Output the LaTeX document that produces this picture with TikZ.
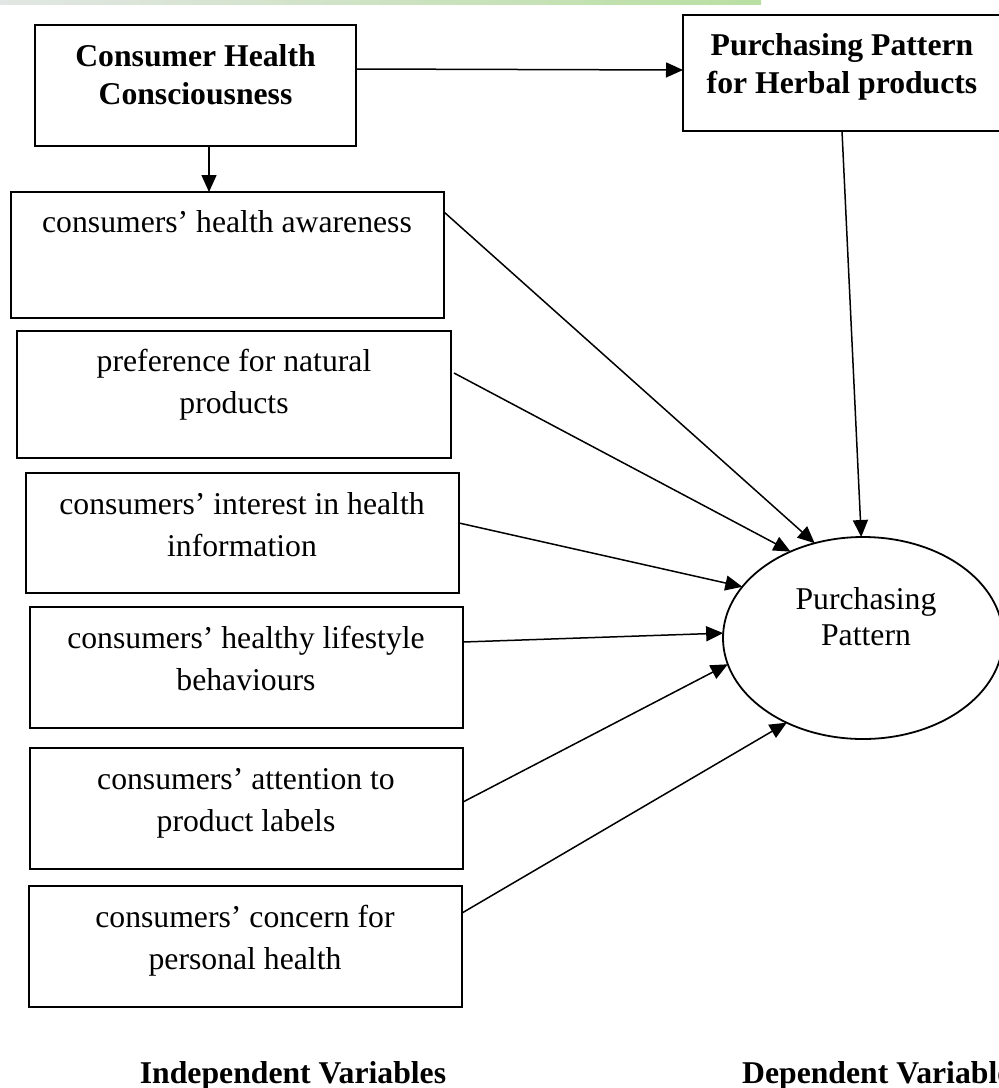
\documentclass[tikz,border=0pt]{standalone}
\usepackage{fontspec}
\setmainfont{Liberation Serif}
\usetikzlibrary{arrows.meta,shapes.geometric,calc}
\definecolor{gl}{HTML}{E2E6E4}
\definecolor{gm}{HTML}{A9D9CC}
\definecolor{gr}{HTML}{B9DFA2}
\begin{document}
\begin{tikzpicture}[x=1pt,y=-1pt,
 box/.style={draw,line width=1.8pt,rectangle,inner sep=0pt,outer sep=0pt},
 oval/.style={draw,line width=1.8pt,ellipse,inner sep=0pt,outer sep=0pt},
 txt/.style={font=\fontsize{31.7}{41.5}\selectfont,align=center,anchor=base,inner sep=0pt},
 btxt/.style={font=\fontsize{31.7}{37.5}\selectfont\bfseries,align=center,anchor=base,inner sep=0pt},
 arr/.style={line width=1.5pt,-{Triangle[length=17pt,width=15pt]}}]
\useasboundingbox (0,0) rectangle (999,1088);
\shade[left color=gl, middle color=gm, right color=gr] (0,0) rectangle (761,4);

% boxes
\node[box,line width=2.1pt,minimum width=321pt,minimum height=121pt] (chc) at (195.5,85.5) {};
\node[box,line width=2.1pt,minimum width=317pt,minimum height=116pt] (pph) at (841.5,73) {};
\node[box,minimum width=433pt,minimum height=126pt] (aw) at (227.5,255) {};
\node[box,minimum width=434pt,minimum height=127pt] (pref) at (234,394.5) {};
\node[box,minimum width=433pt,minimum height=120pt] (int) at (242.5,533) {};
\node[box,minimum width=433pt,minimum height=121pt] (life) at (246.5,667.5) {};
\node[box,minimum width=433pt,minimum height=121pt] (att) at (246.5,808.5) {};
\node[box,minimum width=433pt,minimum height=121pt] (con) at (245.5,946.5) {};
\node[oval,minimum width=280pt,minimum height=202pt] (pp) at (863,638) {};

% texts
\node[btxt] (tchc) at (195.5,104) {Consumer Health\\Consciousness};
\node[btxt] (tpph) at (842,93) {Purchasing Pattern\\for Herbal products};
\node[txt] (taw) at (227,232) {consumers’ health awareness};
\node[txt] (tpref) at (234,413) {preference for natural\\products};
\node[txt] (tint) at (242,556) {consumers’ interest in health\\information};
\node[txt] (tlife) at (246,690) {consumers’ healthy lifestyle\\behaviours};
\node[txt] (tatt) at (246,831) {consumers’ attention to\\product labels};
\node[txt] (tcon) at (245,969) {consumers’ concern for\\personal health};
\node[txt,font=\fontsize{31.7}{36}\selectfont] (tpp) at (866,645) {Purchasing\\Pattern};
\node[btxt] (tind) at (293,1083) {Independent Variables};
\node[btxt,anchor=base west] (tdep) at (742,1083) {Dependent Variables};

% connectors
\draw[arr] ($(chc.north east)+(0,44)$) -- ($(pph.north west)+(0,55)$);
\draw[arr] ($(chc.south west)+(174,0)$) -- ($(aw.north west)+(198,0)$);
\draw[arr] ($(pph.south west)+(159,0)$) -- (pp.91);
\draw[arr] ($(aw.north east)+(0,20)$) -- (pp.117);
\draw[arr] ($(pref.north east)+(3,42)$) -- (pp.130);
\draw[arr] ($(int.north east)+(0,50)$) -- (pp.157.5);
\draw[arr] ($(life.north east)+(0,35)$) -- (pp.178);
\draw[arr] ($(att.north east)+(0,54)$) -- (pp.191);
\draw[arr] ($(con.north east)+(0,27)$) -- (pp.228);
\end{tikzpicture}
\end{document}
